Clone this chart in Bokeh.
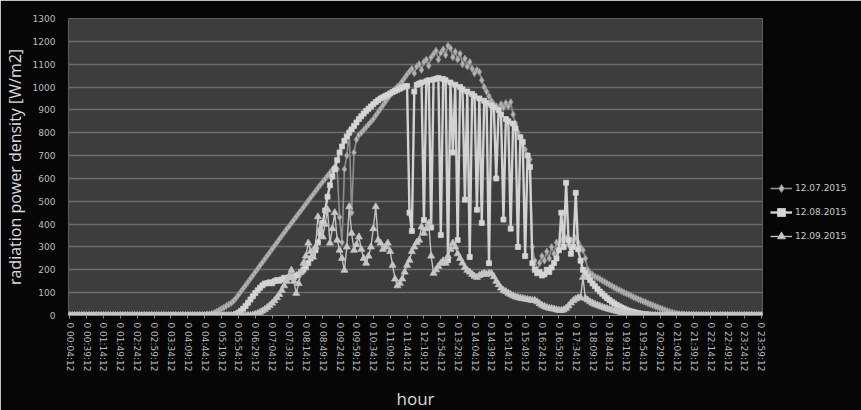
from bokeh.plotting import figure
from bokeh.models import (FixedTicker, SingleIntervalTicker, Legend, LegendItem,
                          Range1d, ColumnDataSource)
from bokeh.embed import file_html
from bokeh.resources import INLINE

# tick labels (every 35 minutes)
tick_labels = [
    "0 00:04:12", "0 00:39:12", "0 01:14:12", "0 01:49:12", "0 02:24:12", "0 02:59:12",
    "0 03:34:12", "0 04:09:12", "0 04:44:12", "0 05:19:12", "0 05:54:12", "0 06:29:12",
    "0 07:04:12", "0 07:39:12", "0 08:14:12", "0 08:49:12", "0 09:24:12", "0 09:59:12",
    "0 10:34:12", "0 11:09:12", "0 11:44:12", "0 12:19:12", "0 12:54:12", "0 13:29:12",
    "0 14:04:12", "0 14:39:12", "0 15:14:12", "0 15:49:12", "0 16:24:12", "0 16:59:12",
    "0 17:34:12", "0 18:09:12", "0 18:44:12", "0 19:19:12", "0 19:54:12", "0 20:29:12",
    "0 21:04:12", "0 21:39:12", "0 22:14:12", "0 22:49:12", "0 23:24:12", "0 23:59:12",
]

series_names = ["12.07.2015", "12.08.2015", "12.09.2015"]

# 5-minute samples, one row = one hour (12 samples)
jul = [
    0, 0, 0, 0, 0, 0, 0, 0, 0, 0, 0, 0,
    0, 0, 0, 0, 0, 0, 0, 0, 0, 0, 0, 0,
    0, 0, 0, 0, 0, 0, 0, 0, 0, 0, 0, 0,
    0, 0, 0, 0, 0, 0, 0, 0, 0, 0, 0, 0,
    0, 0, 0, 0, 0, 0, 0, 0, 1, 3, 5, 8,
    12, 17, 23, 29, 35, 42, 48, 55, 64, 76, 90, 104,
    118, 132, 147, 161, 175, 190, 204, 219, 233, 247, 262, 276,
    291, 305, 319, 334, 348, 362, 377, 390, 404, 418, 432, 446,
    460, 474, 488, 502, 516, 530, 544, 558, 572, 585, 598, 612,
    625, 638, 652, 640, 430, 320, 640, 700, 806, 450, 714, 770,
    790, 800, 812, 824, 836, 848, 860, 875, 890, 905, 920, 935,
    950, 965, 978, 990, 1002, 1010, 1025, 1040, 1055, 1068, 1080, 1060,
    1090, 1100, 1075, 1110, 1120, 1093, 1130, 1145, 1159, 1120, 1150, 1165,
    1140, 1181, 1170, 1130, 1155, 1120, 1146, 1100, 1125, 1090, 1110, 1080,
    1060, 1075, 1066, 1030, 1000, 980, 960, 940, 925, 917, 905, 925,
    910, 930, 915, 934, 880, 840, 802, 780, 750, 727, 700, 683,
    300, 240, 200, 230, 260, 240, 280, 250, 300, 270, 320, 290,
    330, 300, 340, 310, 330, 300, 339, 320, 300, 286, 250, 200,
    185, 178, 170, 165, 160, 153, 147, 141, 135, 129, 123, 117,
    112, 106, 101, 96, 92, 86, 80, 76, 71, 67, 62, 58,
    53, 49, 45, 40, 36, 32, 28, 24, 20, 16, 13, 10,
    8, 6, 5, 4, 3, 2, 1, 1, 0, 0, 0, 0,
    0, 0, 0, 0, 0, 0, 0, 0, 0, 0, 0, 0,
    0, 0, 0, 0, 0, 0, 0, 0, 0, 0, 0, 0,
]

aug = [
    0, 0, 0, 0, 0, 0, 0, 0, 0, 0, 0, 0,
    0, 0, 0, 0, 0, 0, 0, 0, 0, 0, 0, 0,
    0, 0, 0, 0, 0, 0, 0, 0, 0, 0, 0, 0,
    0, 0, 0, 0, 0, 0, 0, 0, 0, 0, 0, 0,
    0, 0, 0, 0, 0, 0, 0, 0, 0, 0, 0, 0,
    0, 0, 0, 0, 0, 0, 0, 0, 2, 6, 12, 20,
    30, 42, 56, 70, 84, 98, 110, 122, 132, 140, 141, 145,
    141, 150, 155, 152, 158, 165, 160, 167, 170, 167, 175, 180,
    190, 200, 211, 230, 250, 270, 286, 320, 360, 405, 460, 520,
    570, 608, 640, 680, 714, 740, 765, 784, 800, 815, 830, 845,
    860, 872, 884, 895, 905, 915, 925, 934, 942, 950, 955, 961,
    966, 972, 978, 983, 988, 993, 998, 1003, 1005, 450, 370, 980,
    1010, 1015, 1020, 418, 1025, 1030, 385, 1033, 1036, 1040, 352, 1035,
    1030, 242, 1020, 714, 1010, 330, 1000, 990, 507, 980, 256, 970,
    960, 463, 950, 405, 940, 930, 229, 920, 910, 600, 900, 880,
    420, 860, 850, 380, 840, 820, 300, 780, 760, 260, 700, 650,
    229, 200, 185, 190, 175, 180, 200, 190, 210, 230, 250, 286,
    450, 300, 581, 330, 270, 300, 537, 290, 240, 200, 185, 170,
    155, 140, 128, 116, 105, 95, 85, 76, 68, 60, 53, 46,
    40, 35, 30, 25, 21, 18, 15, 12, 10, 8, 6, 5,
    4, 3, 2, 1, 1, 0, 0, 0, 0, 0, 0, 0,
    0, 0, 0, 0, 0, 0, 0, 0, 0, 0, 0, 0,
    0, 0, 0, 0, 0, 0, 0, 0, 0, 0, 0, 0,
    0, 0, 0, 0, 0, 0, 0, 0, 0, 0, 0, 0,
]

sep = [
    0, 0, 0, 0, 0, 0, 0, 0, 0, 0, 0, 0,
    0, 0, 0, 0, 0, 0, 0, 0, 0, 0, 0, 0,
    0, 0, 0, 0, 0, 0, 0, 0, 0, 0, 0, 0,
    0, 0, 0, 0, 0, 0, 0, 0, 0, 0, 0, 0,
    0, 0, 0, 0, 0, 0, 0, 0, 0, 0, 0, 0,
    0, 0, 0, 0, 0, 0, 0, 0, 0, 0, 0, 0,
    0, 0, 0, 0, 2, 5, 9, 14, 20, 27, 35, 44,
    54, 65, 78, 92, 110, 130, 150, 170, 198, 150, 97, 140,
    190, 229, 260, 317, 280, 256, 300, 432, 380, 344, 400, 463,
    317, 380, 450, 330, 286, 250, 198, 300, 476, 360, 286, 310,
    344, 290, 250, 229, 260, 300, 380, 476, 330, 317, 290, 300,
    317, 280, 220, 160, 130, 141, 160, 190, 220, 242, 280, 300,
    320, 330, 388, 360, 380, 405, 260, 185, 200, 215, 229, 240,
    229, 260, 290, 317, 300, 270, 250, 230, 210, 198, 190, 180,
    172, 167, 175, 180, 185, 180, 185, 185, 170, 150, 135, 120,
    110, 105, 98, 92, 86, 82, 79, 76, 74, 72, 70, 68,
    66, 66, 60, 52, 45, 40, 35, 32, 30, 28, 25, 23,
    22, 25, 32, 42, 55, 65, 72, 77, 79, 167, 75, 68,
    60, 54, 49, 45, 41, 37, 33, 30, 27, 24, 22, 19,
    16, 13, 10, 8, 6, 4, 3, 2, 1, 0, 0, 0,
    0, 0, 0, 0, 0, 0, 0, 0, 0, 0, 0, 0,
    0, 0, 0, 0, 0, 0, 0, 0, 0, 0, 0, 0,
    0, 0, 0, 0, 0, 0, 0, 0, 0, 0, 0, 0,
    0, 0, 0, 0, 0, 0, 0, 0, 0, 0, 0, 0,
]

n = len(jul)
idx = list(range(n))
tick_step = (n - 1) // (len(tick_labels) - 1)
tick_pos = [i * tick_step for i in range(len(tick_labels))]

src = ColumnDataSource(dict(x=idx, jul=jul, aug=aug, sep=sep))

p = figure(frame_width=694, frame_height=297,
           output_backend="svg", toolbar_location=None,
           x_range=Range1d(-0.5, n - 0.5), y_range=Range1d(0, 1300),
           min_border_left=57, min_border_right=0, min_border_top=18,
           min_border_bottom=80,
           background_fill_color="#3d3d3d", border_fill_color="#060606",
           outline_line_color=None)

p.xgrid.visible = False
p.ygrid.grid_line_color = "#6c6c6c"
p.ygrid.grid_line_width = 1.5

# y axis
p.yaxis.ticker = SingleIntervalTicker(interval=100, num_minor_ticks=0)
p.yaxis.axis_line_color = None
p.yaxis.major_tick_line_color = None
p.yaxis.minor_tick_line_color = None
p.yaxis.major_label_text_font = "DejaVu Sans"
p.yaxis.major_label_text_font_size = "9px"
p.yaxis.major_label_text_color = "#bdbdbd"
p.yaxis.major_label_standoff = 7
p.yaxis.axis_label = "radiation power density [W/m2]"
p.yaxis.axis_label_text_font = "Open Sans"
p.yaxis.axis_label_text_font_size = "16px"
p.yaxis.axis_label_text_font_style = "normal"
p.yaxis.axis_label_text_color = "#dcdcdc"
p.yaxis.axis_label_standoff = 4

# x axis
p.xaxis.ticker = FixedTicker(ticks=tick_pos)
p.xaxis.major_label_overrides = {t: lab for t, lab in zip(tick_pos, tick_labels)}
p.xaxis.major_label_orientation = "vertical"
p.xaxis.major_label_text_font = "DejaVu Sans"
p.xaxis.major_label_text_font_size = "9px"
p.xaxis.major_label_text_color = "#bdbdbd"
p.xaxis.major_label_standoff = 4
p.xaxis.axis_line_color = "#8a8a8a"
p.xaxis.major_tick_line_color = "#8a8a8a"
p.xaxis.major_tick_out = 3
p.xaxis.major_tick_in = 0
p.xaxis.minor_tick_line_color = None
p.xaxis.axis_label = "hour"
p.xaxis.axis_label_text_font = "Open Sans"
p.xaxis.axis_label_text_font_size = "17px"
p.xaxis.axis_label_text_font_style = "normal"
p.xaxis.axis_label_text_color = "#dcdcdc"
p.xaxis.axis_label_standoff = 12

styles = [
    ("jul", "#8e8e8e", 1.6, "diamond", 7, "#b4b4b4"),
    ("aug", "#d2d2d2", 2.4, "square", 5, "#d6d6d6"),
    ("sep", "#c2c2c2", 1.4, "triangle", 7, "#c8c8c8"),
]
items = []
for (col, lc, lw, mk, ms, mf), name in zip(styles, series_names):
    lr = p.line("x", col, source=src, line_color=lc, line_width=lw)
    sr = p.scatter("x", col, source=src, marker=mk, size=ms,
                   fill_color=mf, line_color=lc, line_width=0.8)
    items.append(LegendItem(label=name, renderers=[lr, sr]))

legend = Legend(items=items, location=(0, 61), orientation="vertical",
                label_text_font="DejaVu Sans", label_text_font_size="9px",
                label_text_color="#c8c8c8", glyph_width=22, glyph_height=20,
                label_height=20, spacing=4, padding=8, margin=0,
                label_standoff=3, background_fill_alpha=0,
                border_line_alpha=0)
p.add_layout(legend, "right")

open("out.html", "w").write(file_html(p, INLINE))
